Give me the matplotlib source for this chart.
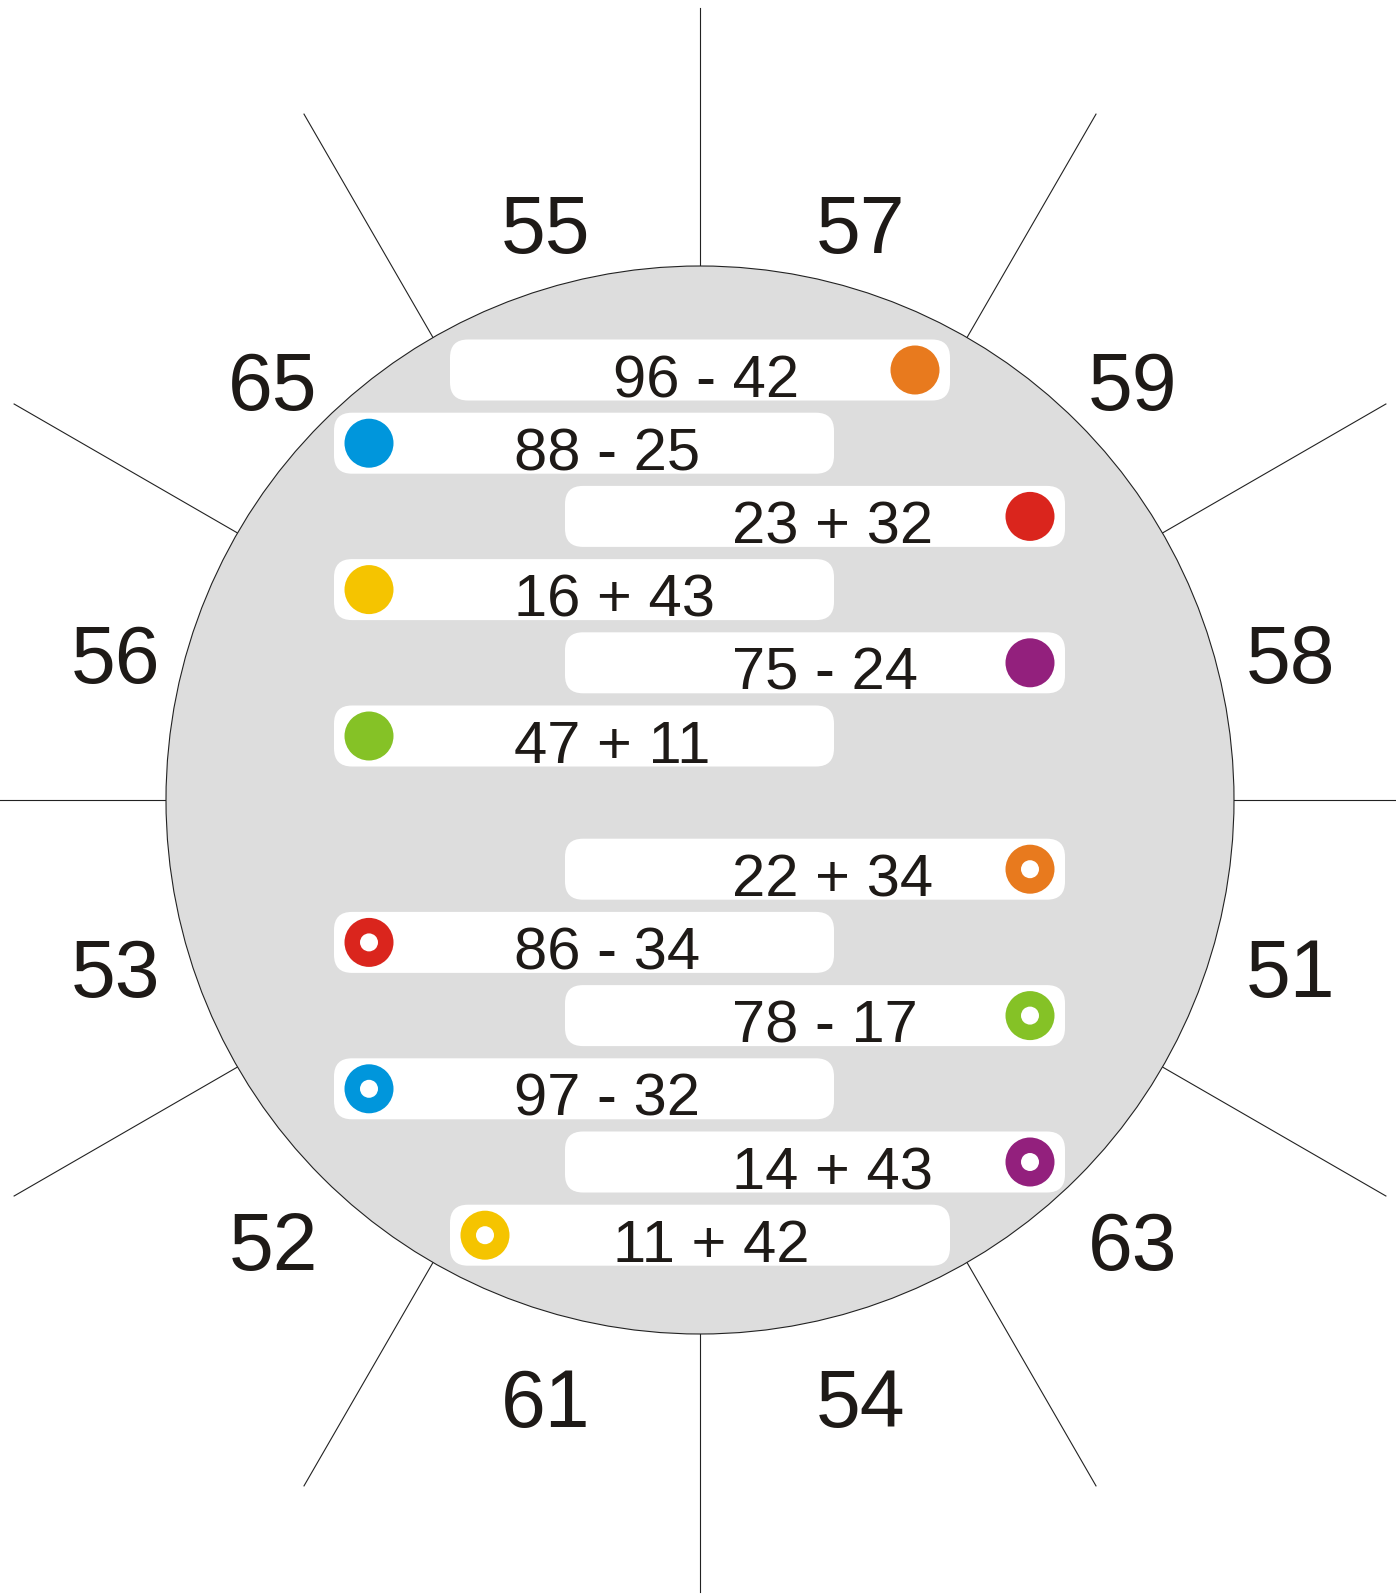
import numpy as np
import matplotlib
matplotlib.use("Agg")
import matplotlib.pyplot as plt
from matplotlib.patches import Circle, FancyBboxPatch

# 外側の数字（角度15°から反時計回り）
sector_values = ["58", "59", "57", "55", "65", "56", "53", "52", "61", "54", "63", "51"]

# 式カード（上から順）
equations = ["96 - 42", "88 - 25", "23 + 32", "16 + 43", "75 - 24", "47 + 11",
             "22 + 34", "86 - 34", "78 - 17", "97 - 32", "14 + 43", "11 + 42"]
positions = ["mid", "left", "right", "left", "right", "left",
             "right", "left", "right", "left", "right", "mid"]
dot_side = ["right", "left", "right", "left", "right", "left",
            "right", "left", "right", "left", "right", "left"]
dot_colors = ["#E87A1E", "#0096DC", "#DA251D", "#F5C400", "#93207D", "#85C226",
              "#E87A1E", "#DA251D", "#85C226", "#0096DC", "#93207D", "#F5C400"]
dot_ring = [False] * 6 + [True] * 6

W, H = 1396, 1594
cx, cy, R = 700, 800, 534
ink = "#1e1a17"
font = ["Liberation Sans", "DejaVu Sans"]

fig = plt.figure(figsize=(W / 100, H / 100), dpi=100)
ax = fig.add_axes([0, 0, 1, 1])
ax.set_xlim(0, W)
ax.set_ylim(H, 0)
ax.axis("off")

# 放射線
for k in range(12):
    a = np.deg2rad(30 * k)
    ax.plot([cx + R * np.cos(a), cx + 792 * np.cos(a)],
            [cy - R * np.sin(a), cy - 792 * np.sin(a)],
            color="#222222", lw=0.8, zorder=1)

ax.add_patch(Circle((cx, cy), R, fc="#dddddd", ec="#222222", lw=0.8, zorder=2))

# 外側の数字（リングの中心は少し下）
lx, ly, lr = cx + 3, cy + 11, 608
for k, v in enumerate(sector_values):
    a = np.deg2rad(15 + 30 * k)
    x = lx + lr * np.cos(a)
    y = ly - lr * np.sin(a)
    ax.text(x, y + 29, v, fontsize=58, family=font, color=ink,
            ha="center", va="baseline", zorder=5)

# カード
pill_w, pill_h, step = 500, 61, 73.2
offsets = {"left": -116, "mid": 0, "right": 115}
text_x = {"left": 180, "mid": 163, "right": 167}
y0 = 370
for i, eq in enumerate(equations):
    yc = y0 + i * step + (60 if i >= 6 else 0)
    xc = cx + offsets[positions[i]]
    left = xc - pill_w / 2
    ax.add_patch(FancyBboxPatch((left, yc - pill_h / 2), pill_w, pill_h,
                                boxstyle="round,pad=0,rounding_size=18",
                                fc="white", ec="none", zorder=3))
    ax.text(left + text_x[positions[i]], yc + 27, eq, fontsize=43, family=font,
            color=ink, ha="left", va="baseline", zorder=5)
    dx = left + 35 if dot_side[i] == "left" else left + pill_w - 35
    ax.add_patch(Circle((dx, yc), 24.5, fc=dot_colors[i], ec="none", zorder=4))
    if dot_ring[i]:
        ax.add_patch(Circle((dx, yc), 9, fc="white", ec="none", zorder=4.5))

fig.savefig("out.png", dpi=100, facecolor="white")
